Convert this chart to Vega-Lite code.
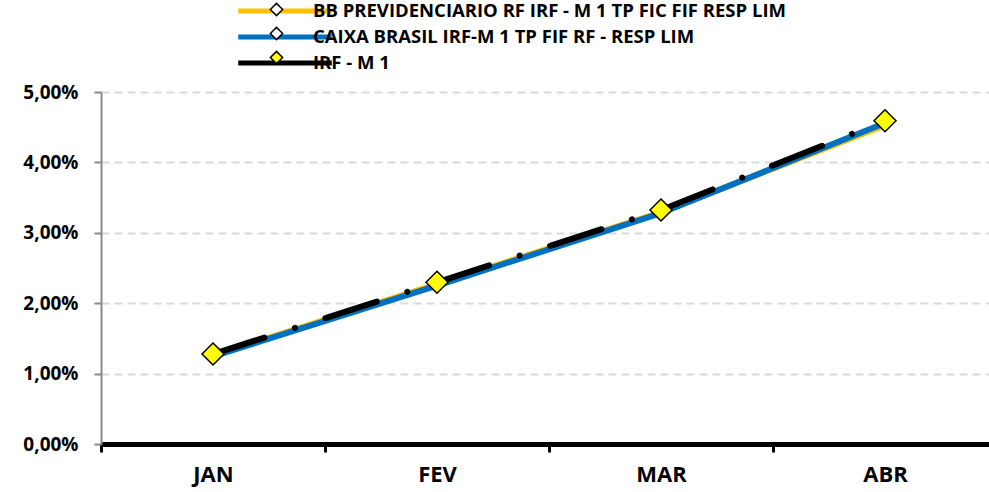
{
  "$schema": "https://vega.github.io/schema/vega-lite/v6.json",
  "autosize": {"type": "none"},
  "padding": {"left": 101, "top": 92, "right": 0, "bottom": 48},
  "width": 888,
  "height": 352,
  "background": "white",
  "config": {
    "view": {"stroke": null},
    "font": "Open Sans"
  },
  "data": {
    "values": [
      {"mes": "JAN", "serie": "BB PREVIDENCIARIO RF IRF - M 1 TP FIC FIF RESP LIM", "marcador": "a", "valor": 0.0126},
      {"mes": "FEV", "serie": "BB PREVIDENCIARIO RF IRF - M 1 TP FIC FIF RESP LIM", "marcador": "a", "valor": 0.0227},
      {"mes": "MAR", "serie": "BB PREVIDENCIARIO RF IRF - M 1 TP FIC FIF RESP LIM", "marcador": "a", "valor": 0.0329},
      {"mes": "ABR", "serie": "BB PREVIDENCIARIO RF IRF - M 1 TP FIC FIF RESP LIM", "marcador": "a", "valor": 0.0453},
      {"mes": "JAN", "serie": "CAIXA BRASIL IRF-M 1 TP FIF RF - RESP LIM", "marcador": "b", "valor": 0.01245},
      {"mes": "FEV", "serie": "CAIXA BRASIL IRF-M 1 TP FIF RF - RESP LIM", "marcador": "b", "valor": 0.0225},
      {"mes": "MAR", "serie": "CAIXA BRASIL IRF-M 1 TP FIF RF - RESP LIM", "marcador": "b", "valor": 0.0328},
      {"mes": "ABR", "serie": "CAIXA BRASIL IRF-M 1 TP FIF RF - RESP LIM", "marcador": "b", "valor": 0.0456},
      {"mes": "JAN", "serie": "IRF - M 1", "marcador": "c", "valor": 0.01278},
      {"mes": "FEV", "serie": "IRF - M 1", "marcador": "c", "valor": 0.02297},
      {"mes": "MAR", "serie": "IRF - M 1", "marcador": "c", "valor": 0.03324},
      {"mes": "ABR", "serie": "IRF - M 1", "marcador": "c", "valor": 0.04592}
    ]
  },
  "encoding": {
    "x": {
      "field": "mes",
      "type": "ordinal",
      "sort": ["JAN", "FEV", "MAR", "ABR"],
      "scale": {"type": "band", "paddingInner": 0, "paddingOuter": 0, "range": [0, 896]},
      "axis": {
        "title": null,
        "domainColor": "#000000",
        "domainWidth": 5,
        "tickColor": "#000000",
        "tickWidth": 3,
        "tickSize": 8,
        "tickBand": "extent",
        "labelAngle": 0,
        "labelFont": "Open Sans",
        "labelFontWeight": "bold",
        "labelFontSize": 22,
        "labelColor": "#000000",
        "labelPadding": 12,
        "grid": false
      }
    },
    "y": {
      "field": "valor",
      "type": "quantitative",
      "scale": {"domain": [0, 0.05], "nice": false, "zero": true},
      "axis": {
        "title": null,
        "values": [0, 0.01, 0.02, 0.03, 0.04, 0.05],
        "labelExpr": "replace(format(datum.value, '.2%'), '.', ',')",
        "domainColor": "#898989",
        "domainWidth": 2,
        "tickColor": "#898989",
        "tickWidth": 2,
        "tickSize": 7,
        "labelFont": "Open Sans",
        "labelFontWeight": "bold",
        "labelFontSize": 19,
        "labelColor": "#000000",
        "labelPadding": 16,
        "grid": true,
        "gridColor": "#d9d9d9",
        "gridWidth": 2,
        "gridDash": [8, 5]
      }
    }
  },
  "layer": [
    {
      "transform": [{"filter": "datum.marcador != 'c'"}],
      "mark": {"type": "line", "strokeWidth": 6, "strokeCap": "round", "strokeJoin": "round"},
      "encoding": {
        "color": {
          "field": "serie",
          "type": "nominal",
          "scale": {
            "domain": ["BB PREVIDENCIARIO RF IRF - M 1 TP FIC FIF RESP LIM", "CAIXA BRASIL IRF-M 1 TP FIF RF - RESP LIM", "IRF - M 1"],
            "range": ["#FFC000", "#0070C0", "#000000"]
          },
          "legend": {
            "title": null,
            "orient": "none",
            "legendX": 173,
            "legendY": -92,
            "padding": 0,
            "symbolType": "M-5.5,0H5.5",
            "symbolSize": 289,
            "symbolStrokeWidth": 5,
            "labelFont": "Open Sans",
            "labelFontWeight": "bold",
            "labelFontSize": 18.5,
            "labelColor": "#000000",
            "labelOffset": 17,
            "rowPadding": 5,
            "labelLimit": 800
          }
        }
      }
    },
    {
      "transform": [{"filter": "datum.marcador == 'c'"}],
      "mark": {"type": "line", "strokeWidth": 6, "strokeCap": "round", "strokeDash": [54, 32, 0.01, 32], "color": "#000000"},
      "encoding": {}
    },
    {
      "transform": [{"filter": "datum.marcador == 'c'"}],
      "mark": {"type": "point", "shape": "diamond", "filled": true, "size": 484, "stroke": "#000000", "strokeWidth": 1.5, "opacity": 1},
      "encoding": {
        "fill": {
          "field": "marcador",
          "type": "nominal",
          "scale": {"domain": ["a", "b", "c"], "range": ["#FFFFFF", "#FFFFFF", "#FFFF00"]},
          "legend": {
            "title": null,
            "orient": "none",
            "legendX": 166,
            "legendY": -92,
            "padding": 0,
            "symbolType": "M-0.72,0L0,-0.72L0.72,0L0,0.72Z",
            "symbolSize": 289,
            "symbolStrokeColor": "#000000",
            "symbolStrokeWidth": 1.5,
            "labelExpr": "''",
            "labelColor": "transparent",
            "labelFont": "Open Sans",
            "labelFontWeight": "bold",
            "labelFontSize": 18.5,
            "labelOffset": 17,
            "rowPadding": 5,
            "labelLimit": 800
          }
        }
      }
    }
  ]
}
